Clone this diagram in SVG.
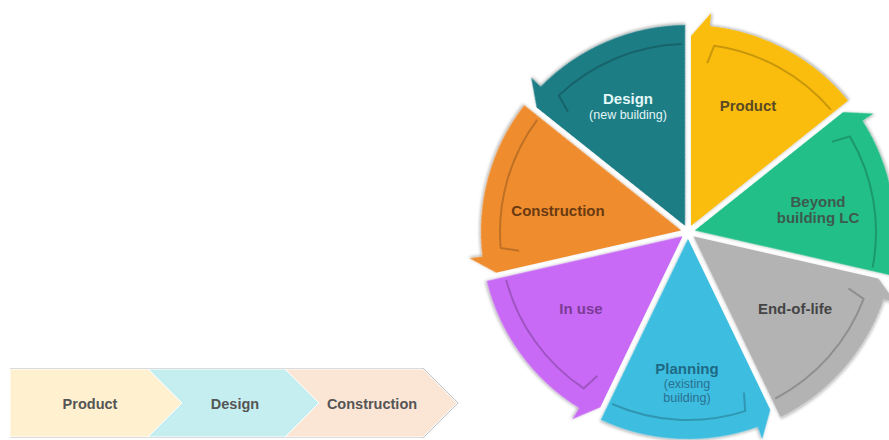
<svg xmlns="http://www.w3.org/2000/svg" width="889" height="440" viewBox="0 0 889 440">
<defs>
<style>
.lbl{font-family:"Liberation Sans",Arial,sans-serif;font-weight:bold;font-size:15px;text-anchor:middle}
.sub{font-family:"Liberation Sans",Arial,sans-serif;font-size:12.5px;text-anchor:middle}
.inner{fill:none;stroke:#000;stroke-opacity:0.2;stroke-width:2;stroke-linejoin:round}
.chev{stroke:#fff;stroke-width:1}
.chev-t{font-family:"Liberation Sans",Arial,sans-serif;font-weight:bold;font-size:14.5px;fill:#555;text-anchor:middle}
</style>
<filter id="sh" x="-10%" y="-10%" width="125%" height="125%"><feDropShadow dx="1" dy="1.5" stdDeviation="1.5" flood-color="#000" flood-opacity="0.3"/></filter>
<path id="slice" d="M6.23 3 L196 3 L218.79 23 L205.87 21.64 A207 207 0 0 1 131.38 159.95 Z"/>
<path id="arc" d="M168.9 19.24 L186.17 26.16 A188 188 0 0 1 122.1 142.96"/>
</defs>
<rect width="889" height="440" fill="#fff"/>
<g id="wheel">
<g id="product">
<use href="#slice" transform="translate(688 232) rotate(-90)" fill="#fbbd0c" filter="url(#sh)"/>
<use href="#arc" class="inner" transform="translate(688 232) rotate(-90)"/>
<text class="lbl" x="748" y="111" fill="#5a4a22">Product</text>
</g>
<g id="beyond">
<use href="#slice" transform="translate(688 232) rotate(-38.57)" fill="#22bf88" filter="url(#sh)"/>
<use href="#arc" class="inner" transform="translate(688 232) rotate(-38.57)"/>
<text class="lbl" x="818" y="207" fill="#3d5a4e">Beyond</text>
<text class="lbl" x="818" y="223" fill="#3d5a4e">building LC</text>
</g>
<g id="endoflife">
<use href="#slice" transform="translate(688 232) rotate(12.86)" fill="#b3b3b3" filter="url(#sh)"/>
<use href="#arc" class="inner" transform="translate(688 232) rotate(12.86)"/>
<text class="lbl" x="795" y="314" fill="#454545">End-of-life</text>
</g>
<g id="planning">
<use href="#slice" transform="translate(688 232) rotate(64.29)" fill="#3dbde0" filter="url(#sh)"/>
<use href="#arc" class="inner" transform="translate(688 232) rotate(64.29)"/>
<text class="lbl" x="687" y="374" fill="#1d6a85">Planning</text>
<text class="sub" x="687" y="388" fill="#2a7090">(existing</text>
<text class="sub" x="687" y="402" fill="#2a7090">building)</text>
</g>
<g id="inuse">
<use href="#slice" transform="translate(688 232) rotate(115.71)" fill="#c86af5" filter="url(#sh)"/>
<use href="#arc" class="inner" transform="translate(688 232) rotate(115.71)"/>
<text class="lbl" x="581" y="314" fill="#7b3b96" font-weight="normal">In use</text>
</g>
<g id="construction">
<use href="#slice" transform="translate(688 232) rotate(167.14)" fill="#ef8d2f" filter="url(#sh)"/>
<use href="#arc" class="inner" transform="translate(688 232) rotate(167.14)"/>
<text class="lbl" x="558" y="216" fill="#6a3a12">Construction</text>
</g>
<g id="design">
<use href="#slice" transform="translate(688 232) rotate(218.57)" fill="#1b7d85" filter="url(#sh)"/>
<use href="#arc" class="inner" transform="translate(688 232) rotate(218.57)"/>
<text class="lbl" x="628" y="104" fill="#e3f8f8">Design</text>
<text class="sub" x="628" y="119" fill="#e3f4f4">(new building)</text>
</g>
<circle cx="688" cy="232" r="6" fill="#fff"/>
</g>
<g id="chevrons">
<path d="M10 369 L423 369 L457 403 L423 437 L10 437" fill="none" stroke="#b8b8b8" stroke-width="2"/>
<g id="chev-product">
<path class="chev" d="M10 369 L148 369 L182 403 L148 437 L10 437 Z" fill="#fff1cf"/>
<text class="chev-t" x="90" y="409">Product</text>
</g>
<g id="chev-design">
<path class="chev" d="M148 369 L285 369 L319 403 L285 437 L148 437 L182 403 Z" fill="#c5eef0"/>
<text class="chev-t" x="235" y="409">Design</text>
</g>
<g id="chev-construction">
<path class="chev" d="M285 369 L423 369 L457 403 L423 437 L285 437 L319 403 Z" fill="#fbe6d5"/>
<text class="chev-t" x="372" y="409">Construction</text>
</g>
</g>
</svg>
